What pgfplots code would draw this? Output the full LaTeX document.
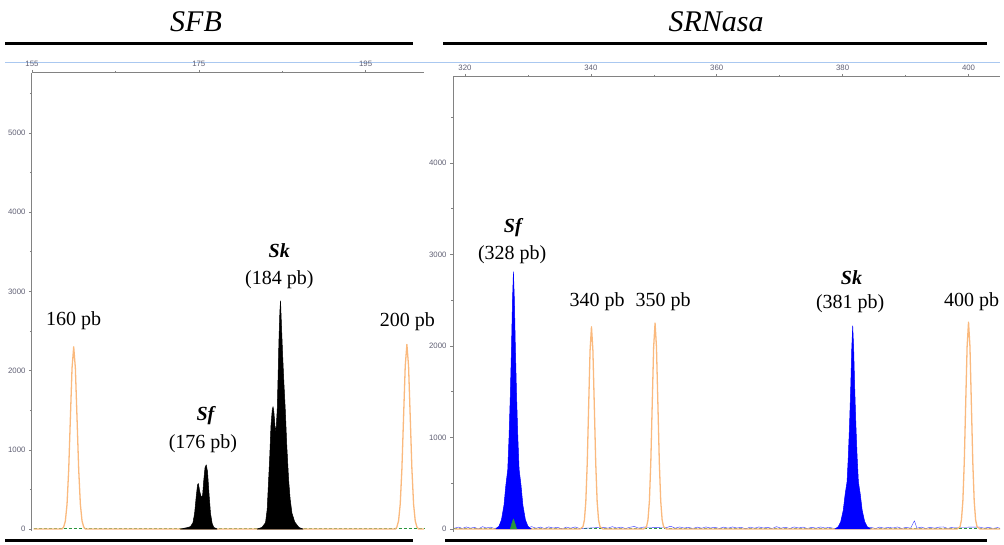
\documentclass[border=0pt]{standalone}
\usepackage{pgfplots}
\pgfplotsset{compat=1.18}
\usepackage{fontspec}
\setmainfont{Liberation Serif}
\setsansfont{Liberation Sans}
\definecolor{ladder}{RGB}{250,185,125}
\definecolor{lblue}{RGB}{170,200,240}
\definecolor{axgray}{RGB}{130,130,130}
\definecolor{ticktext}{RGB}{95,95,115}
\definecolor{gbase}{RGB}{40,150,60}
\pgfplotsset{
  chromstyle/.style={
    scale only axis, clip=false,
    axis x line=top, axis y line=left,
    axis line style={-, draw=axgray, line width=1pt},
    tick style={draw=axgray, line width=0.6pt},
    tick align=outside,
    major tick length=3pt, minor tick length=2pt,
    ticklabel style={font=\sffamily\fontsize{7.8}{8}\selectfont, text=ticktext},
    /pgf/number format/assume math mode=true,
    /pgf/number format/set thousands separator={},
    every axis plot/.append style={line join=round},
  },
}
\tikzset{
  lab/.style={font=\fontsize{20}{24}\selectfont},
  blab/.style={font=\fontsize{20}{24}\selectfont\bfseries\itshape},
}
\begin{document}
\begin{tikzpicture}
\path[use as bounding box] (0pt,0pt) rectangle (1004pt,545pt);
% titles and decorative rules
\node[anchor=base, font=\fontsize{30}{36}\selectfont\itshape] at (196pt,513pt) {SFB};
\node[anchor=base, font=\fontsize{30}{36}\selectfont\itshape] at (716pt,513pt) {SRNasa};
\draw[line width=3pt] (5pt,501pt) -- (413pt,501pt);
\draw[line width=3pt] (443pt,501pt) -- (987pt,501pt);
\draw[line width=3pt] (5pt,4pt) -- (413pt,4pt);
\draw[line width=3pt] (445pt,4pt) -- (987pt,4pt);
\draw[lblue, line width=0.8pt] (5pt,483pt) -- (1000pt,483pt);

% ---------------- left panel: SFB ----------------
\begin{axis}[chromstyle,
  at={(32pt,13.6pt)}, anchor=south west,
  width=392pt, height=458.6pt,
  xmin=155, xmax=202, ymin=-30, ymax=5760,
  xtick={155,175,195}, minor xtick={165,185},
  ytick={0,1000,2000,3000,4000,5000},
  minor ytick={500,1500,2500,3500,4500,5500},
]
\addplot[gbase, densely dashed, line width=0.8pt] coordinates {(155.2,5) (202,5)};
\addplot[ladder, line width=1.3pt] coordinates {
(155.2,0) (158.6,0) (158.8,26) (159.0,101) (159.2,311) (159.4,747) (159.6,1395) (159.8,2030)
(160.0,2300) (160.2,2030) (160.4,1395) (160.6,747) (160.8,311) (161.0,101) (161.2,26) (161.4,0)
(198.6,0) (198.75,26) (198.95,102) (199.15,315) (199.35,757) (199.55,1413) (199.75,2056)
(199.95,2330) (200.15,2056) (200.35,1413) (200.55,757) (200.75,315) (200.95,102) (201.15,26)
(201.35,0) (202,0)};
\addplot[fill=black, draw=black, line width=0.5pt] coordinates {
(172.8,0) (173.5,15) (174.0,30) (174.3,80) (174.5,200) (174.7,420) (174.85,560) (174.95,575)
(175.1,480) (175.3,400) (175.45,420) (175.6,620) (175.75,780) (175.9,810) (176.05,720)
(176.2,480) (176.4,200) (176.6,70) (176.8,20) (177.2,0)} \closedcycle;
\addplot[fill=black, draw=black, line width=0.5pt] coordinates {
(182.0,0) (182.57,20) (183.0,80) (183.2,250) (183.37,620) (183.5,900) (183.65,1300) (183.8,1500)
(183.9,1545) (184.0,1480) (184.15,1280) (184.25,1230) (184.4,1500) (184.5,1900) (184.6,2350)
(184.72,2750) (184.8,2880) (184.9,2600) (185.05,2200) (185.2,1850) (185.37,1500) (185.55,1050)
(185.77,620) (185.95,380) (186.17,200) (186.5,90) (187.0,20) (187.5,0)} \closedcycle;
\node[lab] at (axis cs:160.0,2626) {160 pb};
\node[blab] at (axis cs:175.8,1427) {Sf};
\node[lab] at (axis cs:175.5,1073) {(176 pb)};
\node[blab] at (axis cs:184.65,3510) {Sk};
\node[lab] at (axis cs:184.65,3144) {(184 pb)};
\node[lab] at (axis cs:200.0,2614) {200 pb};
\end{axis}

% ---------------- right panel: SRNasa ----------------
\begin{axis}[chromstyle,
  at={(453pt,13.3pt)}, anchor=south west,
  width=547pt, height=454.8pt,
  xmin=318.1, xmax=405, ymin=-30, ymax=4940,
  xtick={320,340,360,380,400}, minor xtick={330,350,370,390},
  ytick={0,1000,2000,3000,4000},
  minor ytick={500,1500,2500,3500,4500},
]
\addplot[gbase, densely dashed, line width=0.7pt] coordinates {(318.3,5) (405,5)};
\addplot[blue!80!white, line width=0.4pt] coordinates {
(318.3,8) (319.0,20) (319.6,5) (320.2,22) (320.9,8) (321.5,18) (322.1,0) (322.8,25) (323.4,10)
(324.0,20) (324.7,5) (325.3,18) (326.0,8) (330.0,12) (330.6,25) (331.3,8) (332.0,20) (332.6,5)
(333.3,22) (334.0,10) (334.7,18) (335.4,0) (336.1,20) (336.8,8) (337.5,22) (338.2,5) (342.0,18)
(342.7,8) (343.4,25) (344.1,10) (344.8,20) (345.5,5) (346.2,18) (346.9,28) (347.6,8) (348.3,20)
(352.0,15) (352.7,30) (353.4,8) (354.1,22) (354.8,10) (355.5,18) (356.2,5) (356.9,20) (357.6,8)
(358.3,22) (359.0,10) (359.7,18) (360.4,5) (361.1,20) (361.8,8) (362.5,22) (363.2,10) (363.9,18)
(364.6,0) (365.3,20) (366.0,8) (366.7,22) (367.4,10) (368.1,18) (368.8,5) (369.5,25) (370.2,8)
(370.9,18) (371.6,5) (372.3,22) (373.0,10) (373.7,20) (374.4,5) (375.1,18) (375.8,8) (376.5,22)
(377.2,10) (377.9,18) (378.6,5) (384.5,18) (385.2,5) (385.9,20) (386.6,8) (387.3,18) (388.0,10)
(388.7,22) (389.4,5) (390.1,18) (390.8,8) (391.4,90) (391.8,8) (392.5,20) (393.2,5) (393.9,18)
(394.6,8) (395.3,20) (396.0,22) (396.7,5) (397.4,18) (401.8,20) (402.5,8) (403.2,18) (403.9,5)
(404.6,15) (405,8)};
\addplot[ladder, line width=1.3pt] coordinates {
(318.3,0) (338.3,0) (338.75,25) (338.975,97) (339.2,299) (339.425,718) (339.65,1340) (339.875,1950)
(340.1,2210) (340.325,1950) (340.55,1340) (340.775,718) (341.0,299) (341.225,97) (341.45,25) (341.9,0)
(348.4,0) (348.85,25) (349.075,99) (349.3,304) (349.525,731) (349.75,1365) (349.975,1986)
(350.2,2250) (350.425,1986) (350.65,1365) (350.875,731) (351.1,304) (351.325,99) (351.55,25) (352.0,0)
(398.2,0) (398.65,25) (398.875,99) (399.1,306) (399.325,734) (399.55,1371) (399.775,1994)
(400.0,2260) (400.225,1994) (400.45,1371) (400.675,734) (400.9,306) (401.125,99) (401.35,25)
(401.8,0) (405,0)};
\addplot[fill=blue, draw=blue, line width=0.5pt] coordinates {
(324.9,0) (325.4,30) (325.8,100) (326.2,260) (326.5,480) (326.8,650) (327.0,1000) (327.2,1450)
(327.4,2000) (327.55,2500) (327.7,2810) (327.85,2500) (328.0,2000) (328.2,1450) (328.4,1000)
(328.6,650) (328.9,480) (329.2,260) (329.6,100) (330.0,30) (330.5,0)} \closedcycle;
\addplot[fill=blue, draw=blue, line width=0.5pt] coordinates {
(378.8,0) (379.3,25) (379.7,80) (380.1,205) (380.4,380) (380.7,515) (380.9,790) (381.1,1145)
(381.3,1580) (381.45,1975) (381.6,2220) (381.75,1975) (381.9,1580) (382.1,1145) (382.3,790)
(382.5,515) (382.8,380) (383.1,205) (383.5,80) (383.9,25) (384.4,0)} \closedcycle;
\addplot[gbase, fill=gbase, line width=0.4pt] coordinates {
(327.2,0) (327.45,60) (327.7,110) (327.95,60) (328.2,0)} \closedcycle;
\node[blab] at (axis cs:327.6,3290) {Sf};
\node[lab] at (axis cs:327.5,2995) {(328 pb)};
\node[lab] at (axis cs:341.0,2481) {340 pb};
\node[lab] at (axis cs:351.5,2481) {350 pb};
\node[blab] at (axis cs:381.4,2743) {Sk};
\node[lab] at (axis cs:381.2,2459) {(381 pb)};
\node[lab] at (axis cs:400.5,2481) {400 pb};
\end{axis}
\end{tikzpicture}
\end{document}
